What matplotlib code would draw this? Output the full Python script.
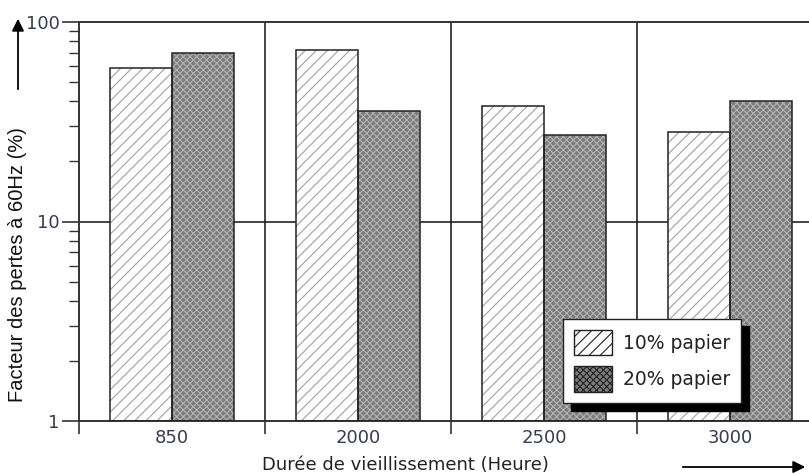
import numpy as np
import matplotlib
matplotlib.use("Agg")
from matplotlib import pyplot as plt
from matplotlib.patches import Patch, FancyArrowPatch

# aging time groups and loss factor (%) for two paper contents
durees = ["850", "2000", "2500", "3000"]
pertes_10 = [59, 72, 38, 28]
pertes_20 = [70, 36, 27, 40]

plt.rcParams["font.family"] = "DejaVu Sans"
plt.rcParams["hatch.linewidth"] = 0.8

fig = plt.figure(figsize=(8.09, 4.74), dpi=100)
ax = fig.add_axes([79 / 809, 53 / 474, 744 / 809, 399 / 474])

x = np.arange(len(durees)) + 0.5
w = 1 / 3
base = 1  # bars start at the bottom of the log axis
h10 = np.array(pertes_10) - base
h20 = np.array(pertes_20) - base

style_10 = dict(facecolor="white", edgecolor="#a0a0a0", hatch="///")
style_20 = dict(facecolor="#7c7c7c", edgecolor="#b4b4b4", hatch="xxxxx")

# hatched fills first, then black outlines on top
ax.bar(x - w / 2, h10, w, bottom=base, linewidth=0, zorder=2, **style_10)
ax.bar(x + w / 2, h20, w, bottom=base, linewidth=0, zorder=2, **style_20)
ax.bar(x - w / 2, h10, w, bottom=base, fill=False, edgecolor="#222222",
       linewidth=1.1, zorder=3)
ax.bar(x + w / 2, h20, w, bottom=base, fill=False, edgecolor="#222222",
       linewidth=1.1, zorder=3)

ax.set_yscale("log")
ax.set_ylim(1, 100)
ax.set_xlim(0, 4)

# separators between groups and the decade line
for xs in range(1, 4):
    ax.axvline(xs, color="#111111", linewidth=1.1, zorder=1)
ax.axhline(10, color="#111111", linewidth=1.1, zorder=1)

ax.spines["right"].set_visible(False)
for s in ["left", "bottom", "top"]:
    ax.spines[s].set_color("#333333")
    ax.spines[s].set_linewidth(1.4)

ax.set_yticks([1, 10, 100])
ax.set_yticklabels(["1", "10", "100"])
ax.tick_params(axis="y", which="major", length=12, width=1.2, color="#333333",
               labelsize=13, labelcolor="#3a3a50", pad=2)
ax.tick_params(axis="y", which="minor", length=7, width=1.0, color="#333333")

ax.set_xticks([0, 1, 2, 3, 4])
ax.set_xticklabels([])
ax.set_xticks(x, minor=True)
ax.set_xticklabels(durees, minor=True)
ax.tick_params(axis="x", which="major", length=9, width=1.2, color="#333333")
ax.tick_params(axis="x", which="minor", length=0, labelsize=13,
               labelcolor="#3a3a50", pad=6)

fig.text(18 / 809, 1 - 265 / 474, "Facteur des pertes à 60Hz (%)", rotation=90,
         ha="center", va="center", fontsize=14.5, family="Liberation Sans",
         color="#111111")
fig.text(405 / 809, 1 - 465 / 474, "Durée de vieillissement (Heure)",
         ha="center", va="center", fontsize=13, color="#222222")

# axis direction arrows
fig.add_artist(FancyArrowPatch(
    (18 / 809, 1 - 92 / 474), (18 / 809, 1 - 16 / 474),
    transform=fig.transFigure, arrowstyle="-|>", mutation_scale=18,
    color="black", linewidth=1.3))
fig.add_artist(FancyArrowPatch(
    (680 / 809, 1 - 467 / 474), (808 / 809, 1 - 467 / 474),
    transform=fig.transFigure, arrowstyle="-|>", mutation_scale=18,
    color="black", linewidth=1.3))

handles = [
    Patch(label="10% papier", **style_10),
    Patch(label="20% papier", **style_20),
]
leg = ax.legend(handles=handles, loc="lower left", bbox_to_anchor=(0.6505, 0.045),
                borderaxespad=0, fancybox=False, framealpha=1, edgecolor="#222222",
                fontsize=13.5, handlelength=2.0, handleheight=1.7, labelspacing=0.6,
                borderpad=0.6, handletextpad=0.6,
                shadow={"ox": 5.5, "oy": -5.5, "facecolor": "black",
                        "edgecolor": "black", "alpha": 1})
leg.get_frame().set_linewidth(1.0)
for t in leg.get_texts():
    t.set_color("#222222")
for h in leg.legend_handles:
    h.set_edgecolor("#222222")
    h.set_linewidth(1.0)

fig.savefig("out.png", dpi=100)
